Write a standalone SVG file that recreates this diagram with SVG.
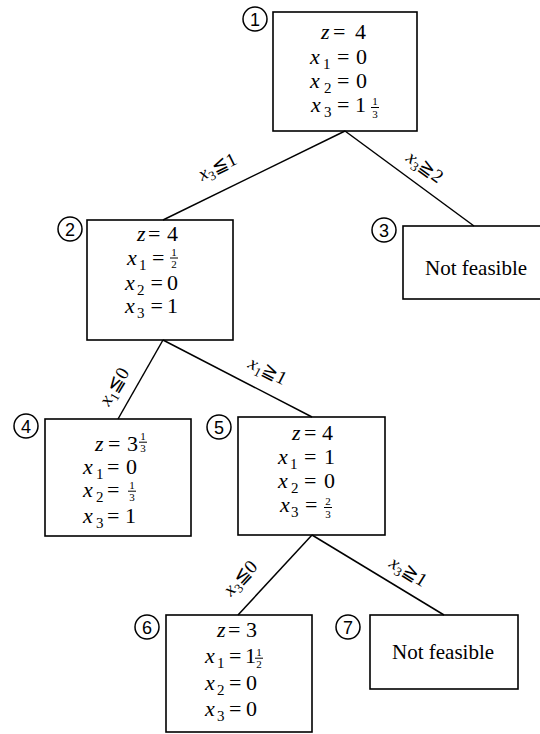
<svg xmlns="http://www.w3.org/2000/svg" width="540" height="734" viewBox="0 0 540 734">
<style>
.bg{fill:#fff}
.box{fill:none;stroke:#000;stroke-width:1.6}
.edge{fill:none;stroke:#000;stroke-width:1.5}
.circ{fill:none;stroke:#000;stroke-width:1.5}
.t{font-family:'Liberation Serif','Times New Roman',serif;font-size:22px;fill:#000}
.nf{font-family:'Liberation Serif','Times New Roman',serif;font-size:21px;fill:#000}
.i{font-style:italic}
.s{font-size:15px}
.f{font-family:'Liberation Serif','Times New Roman',serif;font-size:11px;text-anchor:middle;fill:#000}
.bar{stroke:#000;stroke-width:1}
.lbl{font-family:'Liberation Serif','Times New Roman','DejaVu Sans',serif;font-size:19px;fill:#000}
.ls{font-size:13px}
.num{font-family:'Liberation Sans',Arial,sans-serif;font-size:18px;text-anchor:middle;fill:#000}
</style>
<rect class="bg" x="0" y="0" width="540" height="734"/>
<g id="connectors">
<line class="edge" x1="345" y1="131" x2="163" y2="220"/>
<line class="edge" x1="345" y1="131" x2="474" y2="226"/>
<line class="edge" x1="163" y1="340" x2="118" y2="419"/>
<line class="edge" x1="163" y1="340" x2="312" y2="417"/>
<line class="edge" x1="312" y1="535" x2="238" y2="615"/>
<line class="edge" x1="312" y1="535" x2="444" y2="615"/>
<text class="lbl" transform="translate(202,181) rotate(-26)"><tspan class="i">x</tspan><tspan class="ls" dy="4">3</tspan><tspan dy="-4">≦1</tspan></text>
<text class="lbl" transform="translate(405,160) rotate(36)"><tspan class="i">x</tspan><tspan class="ls" dy="4">3</tspan><tspan dy="-4">≧2</tspan></text>
<text class="lbl" transform="translate(109,407) rotate(-59)"><tspan class="i">x</tspan><tspan class="ls" dy="4">1</tspan><tspan dy="-4">≦0</tspan></text>
<text class="lbl" transform="translate(247,367) rotate(27)"><tspan class="i">x</tspan><tspan class="ls" dy="4">1</tspan><tspan dy="-4">≧1</tspan></text>
<text class="lbl" transform="translate(231,597) rotate(-47)"><tspan class="i">x</tspan><tspan class="ls" dy="4">3</tspan><tspan dy="-4">≦0</tspan></text>
<text class="lbl" transform="translate(388,566) rotate(32)"><tspan class="i">x</tspan><tspan class="ls" dy="4">3</tspan><tspan dy="-4">≧1</tspan></text>
</g>
<g id="node1">
<rect class="box" x="273" y="12" width="144" height="119"/>
<circle class="circ" cx="255" cy="19" r="12"/>
<text class="num" x="255" y="25.5">1</text>
<text class="t"><tspan class="i" x="321" y="39">z</tspan><tspan x="333" y="39">=</tspan><tspan x="355" y="39">4</tspan></text>
<text class="t"><tspan class="i" x="310" y="64">x</tspan><tspan class="s" x="323" y="69">1</tspan><tspan x="337" y="64">=</tspan><tspan x="356" y="64">0</tspan></text>
<text class="t"><tspan class="i" x="310" y="88">x</tspan><tspan class="s" x="324" y="93">2</tspan><tspan x="337" y="88">=</tspan><tspan x="356" y="88">0</tspan></text>
<text class="t"><tspan class="i" x="311" y="112">x</tspan><tspan class="s" x="324" y="117">3</tspan><tspan x="337" y="112">=</tspan><tspan x="355" y="112">1</tspan></text>
<text class="f" x="375" y="105">1</text><line class="bar" x1="371" y1="107.5" x2="379" y2="107.5"/><text class="f" x="375" y="117.5">3</text>
</g>
<g id="node2">
<rect class="box" x="87" y="220" width="146" height="120"/>
<circle class="circ" cx="70" cy="229" r="12"/>
<text class="num" x="70" y="235.5">2</text>
<text class="t"><tspan class="i" x="137" y="241">z</tspan><tspan x="148" y="241">=</tspan><tspan x="167" y="241">4</tspan></text>
<text class="t"><tspan class="i" x="127" y="265">x</tspan><tspan class="s" x="139" y="270">1</tspan><tspan x="152" y="265">=</tspan></text>
<text class="f" x="174" y="255.6">1</text><line class="bar" x1="170" y1="258" x2="178" y2="258"/><text class="f" x="174" y="267.8">2</text>
<text class="t"><tspan class="i" x="125" y="290">x</tspan><tspan class="s" x="137" y="295">2</tspan><tspan x="150.5" y="290">=</tspan><tspan x="167" y="290">0</tspan></text>
<text class="t"><tspan class="i" x="125" y="313">x</tspan><tspan class="s" x="137" y="318">3</tspan><tspan x="150.5" y="313">=</tspan><tspan x="167" y="313">1</tspan></text>
</g>
<g id="node3">
<rect class="box" x="403" y="226" width="150" height="73"/>
<circle class="circ" cx="384" cy="230" r="12"/>
<text class="num" x="384" y="236.5">3</text>
<text class="nf" x="425" y="275">Not feasible</text>
</g>
<g id="node4">
<rect class="box" x="45" y="419" width="146" height="117"/>
<circle class="circ" cx="26" cy="426" r="12"/>
<text class="num" x="26" y="432.5">4</text>
<text class="t"><tspan class="i" x="95" y="451">z</tspan><tspan x="108" y="451">=</tspan><tspan x="127" y="451">3</tspan></text>
<text class="f" x="143" y="439.8">1</text><line class="bar" x1="139" y1="442.2" x2="147" y2="442.2"/><text class="f" x="143" y="452">3</text>
<text class="t"><tspan class="i" x="83" y="474">x</tspan><tspan class="s" x="96" y="479">1</tspan><tspan x="107" y="474">=</tspan><tspan x="126" y="474">0</tspan></text>
<text class="t"><tspan class="i" x="83" y="497">x</tspan><tspan class="s" x="96" y="502">2</tspan><tspan x="107" y="497">=</tspan></text>
<text class="f" x="132" y="488.8">1</text><line class="bar" x1="128" y1="491.2" x2="136" y2="491.2"/><text class="f" x="132" y="501">3</text>
<text class="t"><tspan class="i" x="83" y="523">x</tspan><tspan class="s" x="96" y="528">3</tspan><tspan x="107" y="523">=</tspan><tspan x="125" y="523">1</tspan></text>
</g>
<g id="node5">
<rect class="box" x="238" y="417" width="147" height="118"/>
<circle class="circ" cx="219" cy="427" r="12"/>
<text class="num" x="219" y="433.5">5</text>
<text class="t"><tspan class="i" x="292" y="440">z</tspan><tspan x="304" y="440">=</tspan><tspan x="322" y="440">4</tspan></text>
<text class="t"><tspan class="i" x="278" y="464">x</tspan><tspan class="s" x="290" y="469">1</tspan><tspan x="304" y="464">=</tspan><tspan x="324" y="464">1</tspan></text>
<text class="t"><tspan class="i" x="278" y="488">x</tspan><tspan class="s" x="291" y="493">2</tspan><tspan x="304" y="488">=</tspan><tspan x="324" y="488">0</tspan></text>
<text class="t"><tspan class="i" x="280" y="512">x</tspan><tspan class="s" x="291" y="517">3</tspan><tspan x="305" y="512">=</tspan></text>
<text class="f" x="328" y="505">2</text><line class="bar" x1="324" y1="507.5" x2="332" y2="507.5"/><text class="f" x="328" y="517.5">3</text>
</g>
<g id="node6">
<rect class="box" x="166" y="615" width="146" height="117"/>
<circle class="circ" cx="147" cy="627" r="12"/>
<text class="num" x="147" y="633.5">6</text>
<text class="t"><tspan class="i" x="217" y="637">z</tspan><tspan x="228" y="637">=</tspan><tspan x="246" y="637">3</tspan></text>
<text class="t"><tspan class="i" x="205" y="663">x</tspan><tspan class="s" x="217" y="668">1</tspan><tspan x="229" y="663">=</tspan><tspan x="245" y="663">1</tspan></text>
<text class="f" x="259" y="655.8">1</text><line class="bar" x1="255" y1="658.2" x2="263" y2="658.2"/><text class="f" x="259" y="668">2</text>
<text class="t"><tspan class="i" x="205" y="690">x</tspan><tspan class="s" x="217" y="695">2</tspan><tspan x="229" y="690">=</tspan><tspan x="246" y="690">0</tspan></text>
<text class="t"><tspan class="i" x="205" y="716">x</tspan><tspan class="s" x="217" y="721">3</tspan><tspan x="229" y="716">=</tspan><tspan x="246" y="716">0</tspan></text>
</g>
<g id="node7">
<rect class="box" x="370" y="615" width="148" height="74"/>
<circle class="circ" cx="348" cy="627" r="12"/>
<text class="num" x="348" y="633.5">7</text>
<text class="nf" x="392" y="659">Not feasible</text>
</g>
</svg>
